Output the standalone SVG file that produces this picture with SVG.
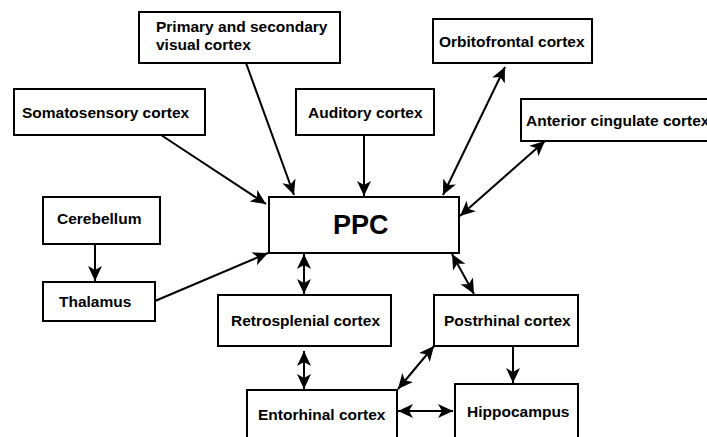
<svg xmlns="http://www.w3.org/2000/svg" width="707" height="437" viewBox="0 0 707 437">
<style>
.box{fill:#fff;stroke:#000;stroke-width:2}
.t{font-family:"Liberation Sans",Arial,sans-serif;font-weight:bold;font-size:15.5px;fill:#000}
.big{font-size:27px}
.c{fill:none;stroke:#000;stroke-width:2}
</style>
<defs>
<marker id="ah" markerUnits="userSpaceOnUse" markerWidth="18" markerHeight="16" refX="15" refY="7" orient="auto-start-reverse" viewBox="0 0 18 16">
<path d="M0,0 L15,7 L0,14 L4,7 z" fill="#000"/>
</marker>
</defs>
<rect width="707" height="437" fill="#fff"/>
<g id="connectors">
<line class="c" x1="246" y1="63" x2="294" y2="195" marker-end="url(#ah)"/>
<line class="c" x1="161" y1="135" x2="266" y2="204" marker-end="url(#ah)"/>
<line class="c" x1="364" y1="135" x2="364" y2="196" marker-end="url(#ah)"/>
<line class="c" x1="443" y1="195" x2="505" y2="67" marker-start="url(#ah)" marker-end="url(#ah)"/>
<line class="c" x1="460" y1="216" x2="545" y2="141" marker-start="url(#ah)" marker-end="url(#ah)"/>
<line class="c" x1="155" y1="301" x2="268" y2="253" marker-end="url(#ah)"/>
<line class="c" x1="95" y1="244" x2="95" y2="281" marker-end="url(#ah)"/>
<line class="c" x1="304" y1="254" x2="304" y2="294" marker-start="url(#ah)" marker-end="url(#ah)"/>
<line class="c" x1="452" y1="254" x2="474" y2="294" marker-start="url(#ah)" marker-end="url(#ah)"/>
<line class="c" x1="304" y1="351" x2="304" y2="389" marker-start="url(#ah)" marker-end="url(#ah)"/>
<line class="c" x1="434" y1="346" x2="398" y2="389" marker-start="url(#ah)" marker-end="url(#ah)"/>
<line class="c" x1="513" y1="346" x2="513" y2="383" marker-end="url(#ah)"/>
<line class="c" x1="398" y1="411" x2="453" y2="411" marker-start="url(#ah)" marker-end="url(#ah)"/>
</g>
<g id="visual"><rect class="box" x="139" y="12" width="201" height="51"/><text class="t" x="156" y="32">Primary and secondary</text><text class="t" x="156" y="50">visual cortex</text></g>
<g id="somatosensory"><rect class="box" x="14" y="89" width="191" height="46"/><text class="t" x="22" y="118">Somatosensory cortex</text></g>
<g id="auditory"><rect class="box" x="296" y="89" width="138" height="46"/><text class="t" x="308" y="118">Auditory cortex</text></g>
<g id="orbitofrontal"><rect class="box" x="433" y="19" width="159" height="44"/><text class="t" x="439" y="47">Orbitofrontal cortex</text></g>
<g id="anterior"><rect class="box" x="521" y="99" width="200" height="42"/><text class="t" x="526" y="126">Anterior cingulate cortex</text></g>
<g id="ppc"><rect class="box" x="269" y="197" width="190" height="56"/><text class="t big" x="333" y="234">PPC</text></g>
<g id="cerebellum"><rect class="box" x="43" y="197" width="117" height="47"/><text class="t" x="57" y="224">Cerebellum</text></g>
<g id="thalamus"><rect class="box" x="43" y="282" width="112" height="39"/><text class="t" x="59" y="307">Thalamus</text></g>
<g id="retrosplenial"><rect class="box" x="218" y="295" width="173" height="51"/><text class="t" x="231" y="326">Retrosplenial cortex</text></g>
<g id="postrhinal"><rect class="box" x="434" y="295" width="144" height="51"/><text class="t" x="444" y="326">Postrhinal cortex</text></g>
<g id="entorhinal"><rect class="box" x="247" y="390" width="150" height="60"/><text class="t" x="258" y="420">Entorhinal cortex</text></g>
<g id="hippocampus"><rect class="box" x="455" y="384" width="123" height="66"/><text class="t" x="467" y="417">Hippocampus</text></g>
</svg>
